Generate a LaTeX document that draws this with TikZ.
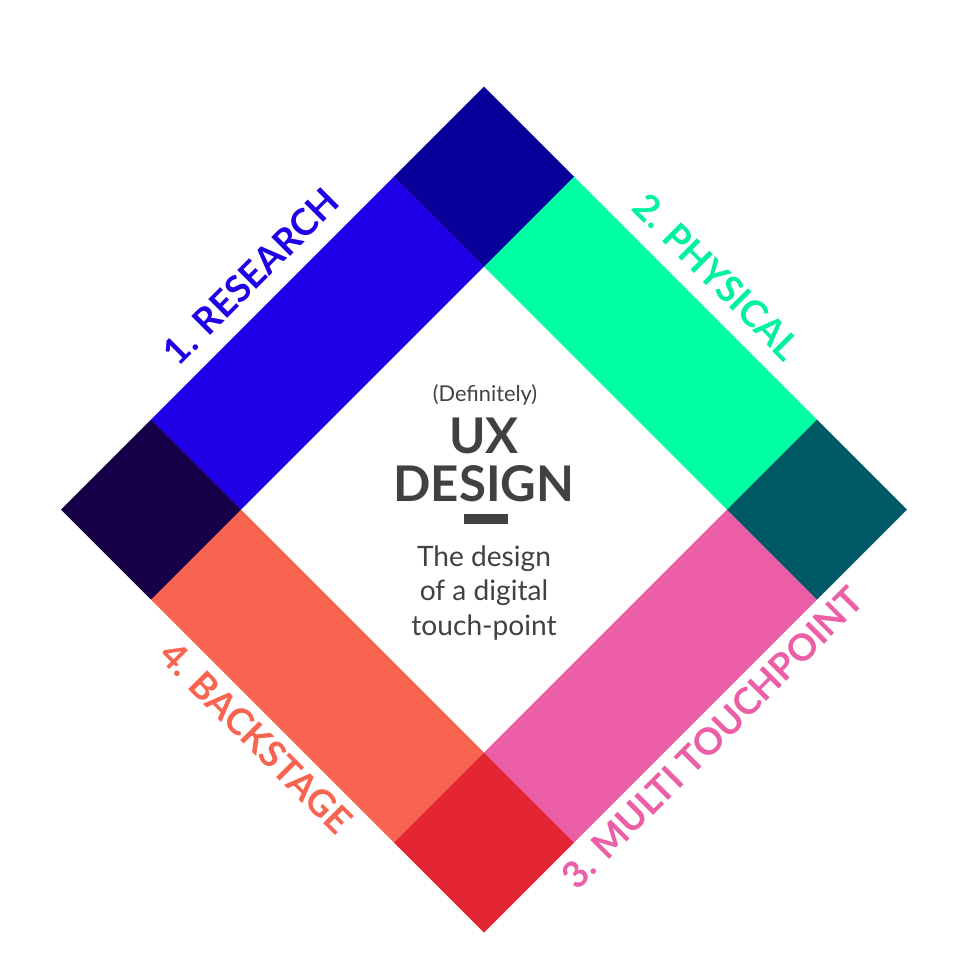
\documentclass[tikz,border=0pt]{standalone}
\usepackage{fontspec}
\setmainfont{Lato}
\definecolor{research}{HTML}{1F00E6}
\definecolor{physical}{HTML}{00FFA3}
\definecolor{multi}{HTML}{EC5EA6}
\definecolor{backstage}{HTML}{F86450}
\definecolor{topcorner}{HTML}{080099}
\definecolor{rightcorner}{HTML}{005A66}
\definecolor{bottomcorner}{HTML}{E42534}
\definecolor{leftcorner}{HTML}{170048}
\definecolor{txtgray}{HTML}{414141}

\begin{document}
\begin{tikzpicture}[
		lbl/.style={font=\bfseries\fontsize{10.5}{12}\selectfont, inner sep=0pt},
		body/.style={text=txtgray, inner sep=0pt, anchor=base}]
	\useasboundingbox (-4.84,-4.505) rectangle (4.81,5.095);
	% bands
	\fill[research] (-3.33,0.9) -- (-0.9,3.33) -- (0,2.43) -- (-2.43,0) -- cycle;
	\fill[physical] (0.9,3.33) -- (3.33,0.9) -- (2.43,0) -- (0,2.43) -- cycle;
	\fill[multi] (3.33,-0.9) -- (0.9,-3.33) -- (0,-2.43) -- (2.43,0) -- cycle;
	\fill[backstage] (-0.9,-3.33) -- (-3.33,-0.9) -- (-2.43,0) -- (0,-2.43) -- cycle;
	% corners
	\fill[topcorner] (0,4.23) -- (-0.9,3.33) -- (0,2.43) -- (0.9,3.33) -- cycle;
	\fill[rightcorner] (4.23,0) -- (3.33,0.9) -- (2.43,0) -- (3.33,-0.9) -- cycle;
	\fill[bottomcorner] (0,-4.23) -- (0.9,-3.33) -- (0,-2.43) -- (-0.9,-3.33) -- cycle;
	\fill[leftcorner] (-4.23,0) -- (-3.33,-0.9) -- (-2.43,0) -- (-3.33,0.9) -- cycle;
	% labels
	\node[lbl, text=research, rotate=45] (l1) at (-2.33,2.33) {1. RESEARCH};
	\node[lbl, text=physical!90!teal, rotate=-45] (l2) at (2.33,2.33) {2. PHYSICAL};
	\node[lbl, text=multi, rotate=45] (l3) at (2.28,-2.28) {3. MULTI TOUCHPOINT};
	\node[lbl, text=backstage, rotate=-45] (l4) at (-2.28,-2.28) {4. BACKSTAGE};
	% centre
	\node[body, font=\fontsize{6.2}{7}\selectfont] (definitely) at (0.01,1.08) {(Definitely)};
	\node[body, font=\bfseries\fontsize{14}{14}\selectfont] (ux) at (0,0.565) {UX};
	\node[body, font=\bfseries\fontsize{14}{14}\selectfont] (design) at (0,0.078) {DESIGN};
	\node[fill=txtgray, minimum width=0.44cm, minimum height=0.1cm, inner sep=0pt] (rule) at (0.02,-0.095) {};
	\node[body, align=center, font=\fontsize{8}{9.7}\selectfont] (sub) at (0,-1.255) {The design\\of a digital\\touch-point};
\end{tikzpicture}
\end{document}
